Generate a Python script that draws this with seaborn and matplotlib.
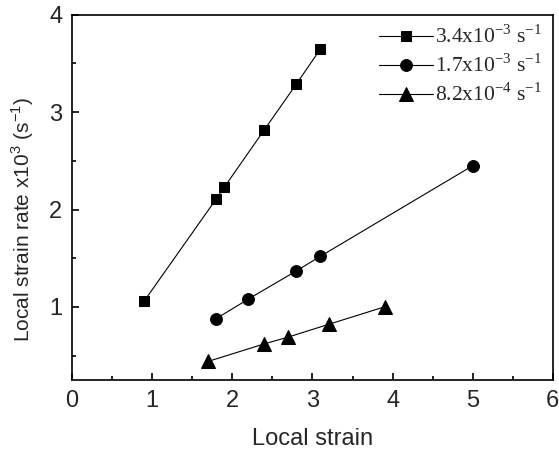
import pandas as pd
import matplotlib
matplotlib.use("Agg")
import matplotlib.pyplot as plt
import seaborn as sns
from matplotlib.ticker import MultipleLocator

# values
rates = [r"3.4x10$^\mathregular{-3}$ s$^\mathregular{-1}$",
         r"1.7x10$^\mathregular{-3}$ s$^\mathregular{-1}$",
         r"8.2x10$^\mathregular{-4}$ s$^\mathregular{-1}$"]
strain_fast = [0.9, 1.8, 1.9, 2.4, 2.8, 3.1]
rate_fast = [1.06, 2.11, 2.23, 2.82, 3.29, 3.65]
strain_mid = [1.8, 2.2, 2.8, 3.1, 5.0]
rate_mid = [0.88, 1.08, 1.37, 1.52, 2.45]
strain_slow = [1.7, 2.4, 2.7, 3.2, 3.9]
rate_slow = [0.44, 0.62, 0.69, 0.82, 1.0]

frames = []
for label, xs, ys in zip(rates, [strain_fast, strain_mid, strain_slow],
                         [rate_fast, rate_mid, rate_slow]):
    frames.append(pd.DataFrame({'strain': xs, 'rate': ys, 'series': label}))
df = pd.concat(frames, ignore_index=True)

sns.set_style("ticks")
plt.rcParams['font.family'] = ['Liberation Sans', 'DejaVu Sans']

fig = plt.figure(figsize=(5.59, 4.49), dpi=100)
ax = fig.add_axes([0.129, 0.154, 0.860, 0.813])

markers = {rates[0]: 's', rates[1]: 'o', rates[2]: '^'}
sizes = {rates[0]: 7, rates[1]: 8.5, rates[2]: 10.5}
for label in rates:
    sub = df[df['series'] == label]
    sns.lineplot(data=sub, x='strain', y='rate', ax=ax, color='black',
                 marker=markers[label], markersize=sizes[label], linewidth=0.8,
                 markeredgecolor='black', label=label, sort=False)

ax.set_xlim(0, 6)
ax.set_ylim(0.25, 4)
ax.xaxis.set_major_locator(MultipleLocator(1))
ax.xaxis.set_minor_locator(MultipleLocator(0.5))
ax.yaxis.set_major_locator(MultipleLocator(1))
ax.yaxis.set_minor_locator(MultipleLocator(0.5))
ax.tick_params(which='both', direction='in', color='black', width=1.2)
ax.tick_params(which='major', length=5, labelsize=17, pad=7)
ax.tick_params(which='minor', length=3)
for s in ax.spines.values():
    s.set_linewidth(1.2)
    s.set_color('black')

ax.set_xlabel("Local strain", fontsize=17, labelpad=12)
ax.set_ylabel(r"Local strain rate x10$^\mathregular{3}$ (s$^\mathregular{-1}$)",
              fontsize=15)
ax.yaxis.set_label_coords(-0.075, 0.44)

leg = ax.legend(loc='upper right', frameon=False, handlelength=2.5,
                handletextpad=0.1, labelspacing=0.3, borderaxespad=0.1,
                prop={'family': 'Liberation Serif', 'size': 15.5})

fig.savefig("out.png", dpi=100)
